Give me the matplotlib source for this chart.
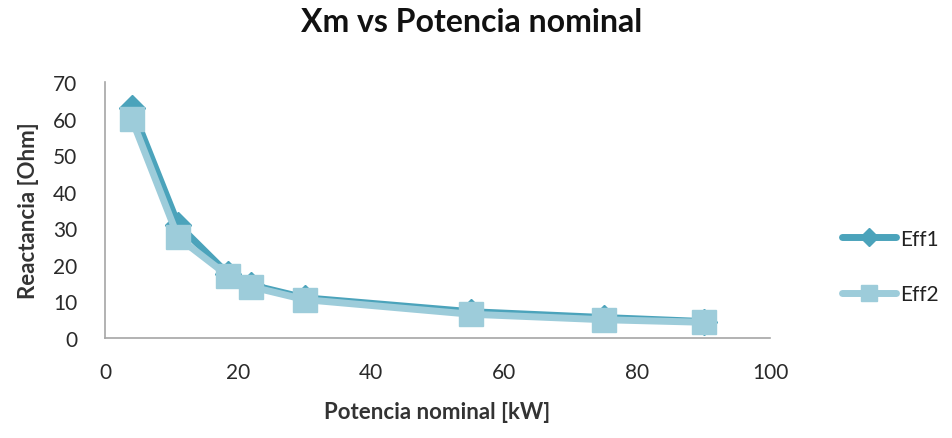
import matplotlib
matplotlib.use("Agg")
import matplotlib.pyplot as plt

potencia = [4, 11, 18.5, 22, 30, 55, 75, 90]
eff1 = [63, 31, 17.5, 14.5, 11, 7.2, 5.6, 4.5]
eff2 = [60, 27.5, 17, 14, 10.5, 6.5, 5.0, 4.3]
series_names = ["Eff1", "Eff2"]

plt.rcParams['font.family'] = ['Lato', 'DejaVu Sans']

fig = plt.figure(figsize=(9.53, 4.39), dpi=100)
ax = fig.add_axes([105/953, 1-339/439, 665/953, 256/439])

c1 = "#4BA3BB"
c2 = "#9DCCDA"
ax.plot(potencia, eff1, color=c1, lw=5, marker="D", ms=13, label=series_names[0], zorder=3, solid_capstyle="round")
ax.plot(potencia, eff2, color=c2, lw=5, marker="s", ms=17, label=series_names[1], zorder=4, solid_capstyle="round")

ax.set_xlim(0, 100)
ax.set_ylim(0, 70)
ax.set_xticks(range(0, 101, 20))
ax.set_yticks(range(0, 71, 10))
for s in ["top", "right"]:
    ax.spines[s].set_visible(False)
for s in ["left", "bottom"]:
    ax.spines[s].set_color("#A6A6A6")
    ax.spines[s].set_linewidth(1.2)
ax.tick_params(axis="both", labelsize=15, length=0, labelcolor="#2a2a2a")
ax.tick_params(axis="x", pad=17)
ax.tick_params(axis="y", pad=20)

ax.set_xlabel("Potencia nominal [kW]", fontsize=16, fontweight="bold", color="#333333", labelpad=14)
ax.set_ylabel("Reactancia [Ohm]", fontsize=16, fontweight="bold", color="#333333", labelpad=10)
fig.text(472/953, 1 - 22/439, "Xm vs Potencia nominal", ha="center", va="center",
         fontsize=23, fontweight="bold", color="#111111")

leg = ax.legend(loc="center left", bbox_to_anchor=(1.08, 0.28), frameon=False, fontsize=15,
                labelspacing=1.7, handlelength=2.6, handletextpad=0.2, markerscale=0.7)
for t in leg.get_texts():
    t.set_color("#222222")

fig.savefig("out.png", dpi=100)
